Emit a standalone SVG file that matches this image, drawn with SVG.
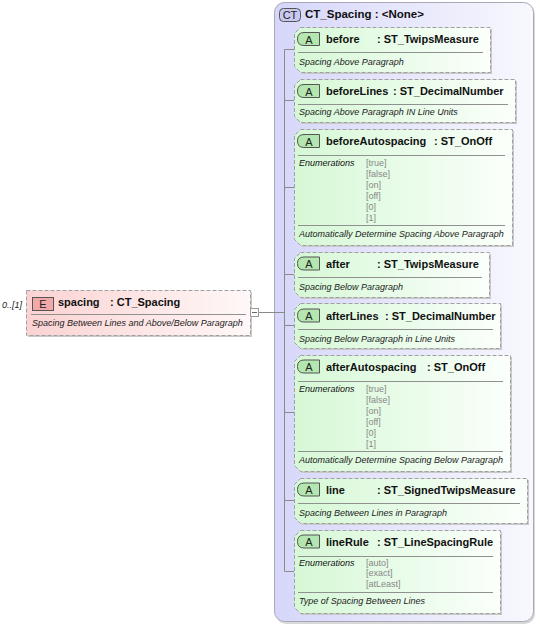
<svg xmlns="http://www.w3.org/2000/svg" width="540" height="626" viewBox="0 0 540 626">
<defs>
<linearGradient id="ctG" x1="0" y1="0" x2="1" y2="0">
<stop offset="0" stop-color="#d6d6fa"/><stop offset="1" stop-color="#f8f8fe"/>
</linearGradient>
<linearGradient id="aG" x1="0" y1="0" x2="1" y2="0">
<stop offset="0" stop-color="#d6f8d6"/><stop offset="1" stop-color="#fbfffb"/>
</linearGradient>
<linearGradient id="eG" x1="0" y1="0" x2="1" y2="0">
<stop offset="0" stop-color="#fbd2d2"/><stop offset="1" stop-color="#fff8f8"/>
</linearGradient>
</defs>
<style>
.box{stroke:#a0a0a0;stroke-width:1;stroke-dasharray:4,2}
.shadow{fill:#c8c8c8}
.attr{fill:url(#aG)}
.sep{stroke:#909090;stroke-width:1}
.hdr{font-family:"Liberation Sans",Arial,sans-serif;font-size:11px;font-weight:bold;fill:#111}
.desc{font-family:"Liberation Sans",Arial,sans-serif;font-size:9px;font-style:italic;fill:#222}
.enl{font-family:"Liberation Sans",Arial,sans-serif;font-size:9px;font-style:italic;fill:#111}
.env{font-family:"Liberation Sans",Arial,sans-serif;font-size:9px;fill:#888}
.abadge{fill:#b4e6b0;stroke:#555;stroke-width:1}
.btxt{font-family:"Liberation Sans",Arial,sans-serif;font-size:11px;fill:#222;text-anchor:middle}
.conn{stroke:#8a8a8a;stroke-width:1;fill:none}
</style>

<g id="CT_Spacing">
<rect x="276" y="4" width="259" height="620" rx="10" fill="#d8d8d8"/>
<rect x="274.5" y="2.5" width="259" height="619" rx="10" fill="url(#ctG)" stroke="#a8a8b8"/>
<rect x="279.5" y="8.5" width="21" height="13" rx="4" fill="#c8c8f0" stroke="#555"/>
<text class="btxt" x="290" y="19">CT</text>
<text class="hdr" x="305" y="17.5" style="font-size:11.5px">CT_Spacing : &lt;None&gt;</text>
</g>

<g id="connectors">
<path class="conn" d="M259 312.5H284.5"/>
<path class="conn" d="M284.5 49.5V571.5"/>
<path class="conn" d="M284.5 49.5H294M284.5 100.5H294M284.5 187.5H294M284.5 274.5H294M284.5 325.5H294M284.5 412.5H294M284.5 500.5H294M284.5 571.5H294"/>
</g>

<g id="spacing">
<rect x="28" y="292" width="224" height="45" class="shadow"/>
<rect x="26.5" y="290.5" width="224" height="45" fill="url(#eG)" class="box"/>
<rect x="32.5" y="297.5" width="21" height="13" fill="#f2a8a8" stroke="#555"/>
<text class="btxt" x="43" y="308">E</text>
<text class="hdr" x="58" y="306">spacing</text>
<text class="hdr" x="110" y="306">: CT_Spacing</text>
<path class="sep" d="M31 314.5H246"/>
<text class="desc" x="32" y="326">Spacing Between Lines and Above/Below Paragraph</text>
<text x="2" y="308" font-family="Liberation Sans, Arial, sans-serif" font-size="9" font-style="italic" fill="#222">0..[1]</text>
<rect x="250.5" y="308.5" width="8" height="8" fill="#fff" stroke="#999"/>
<path d="M252 312.5H257" stroke="#666"/>
</g>

<g id="before">
<path class="shadow" d="M302 29H492V74H302L296 68V35Z"/>
<path class="attr box" d="M300.5 27.5H490.5V72.5H300.5L294.5 66.5V33.5Z"/>
<path class="abadge" d="M304 32.5H319.5V45.5H304Q297.5 45.5 297.5 39Q297.5 32.5 304 32.5Z"/>
<text class="btxt" x="309" y="43.5">A</text>
<text class="hdr" x="326" y="43">before</text>
<text class="hdr" x="377" y="43">: ST_TwipsMeasure</text>
<path class="sep" d="M298 52.5H483"/>
<text class="desc" x="299" y="64.5">Spacing Above Paragraph</text>
</g>

<g id="beforeLines">
<path class="shadow" d="M302 81H517V124H302L296 118V87Z"/>
<path class="attr box" d="M300.5 79.5H515.5V122.5H300.5L294.5 116.5V85.5Z"/>
<path class="abadge" d="M304 84.5H319.5V97.5H304Q297.5 97.5 297.5 91Q297.5 84.5 304 84.5Z"/>
<text class="btxt" x="309" y="95.5">A</text>
<text class="hdr" x="326" y="95">beforeLines</text>
<text class="hdr" x="393" y="95">: ST_DecimalNumber</text>
<path class="sep" d="M298 104.5H508"/>
<text class="desc" x="299" y="115">Spacing Above Paragraph IN Line Units</text>
</g>

<g id="beforeAutospacing">
<path class="shadow" d="M302 131H514V247H302L296 241V137Z"/>
<path class="attr box" d="M300.5 129.5H512.5V245.5H300.5L294.5 239.5V135.5Z"/>
<path class="abadge" d="M304 134.5H319.5V147.5H304Q297.5 147.5 297.5 141Q297.5 134.5 304 134.5Z"/>
<text class="btxt" x="309" y="145.5">A</text>
<text class="hdr" x="326" y="145">beforeAutospacing</text>
<text class="hdr" x="434" y="145">: ST_OnOff</text>
<path class="sep" d="M298 155.5H505"/>
<text class="enl" x="299" y="166">Enumerations</text>
<text class="env" x="366" y="166">[true]</text>
<text class="env" x="366" y="177">[false]</text>
<text class="env" x="366" y="188">[on]</text>
<text class="env" x="366" y="199">[off]</text>
<text class="env" x="366" y="210">[0]</text>
<text class="env" x="366" y="221">[1]</text>
<path class="sep" d="M298 225.5H505"/>
<text class="desc" x="299" y="236.5">Automatically Determine Spacing Above Paragraph</text>
</g>

<g id="after">
<path class="shadow" d="M302 254H491V299H302L296 293V260Z"/>
<path class="attr box" d="M300.5 252.5H489.5V297.5H300.5L294.5 291.5V258.5Z"/>
<path class="abadge" d="M304 257H319.5V270H304Q297.5 270 297.5 263.5Q297.5 257 304 257Z"/>
<text class="btxt" x="309" y="268">A</text>
<text class="hdr" x="326" y="267.5">after</text>
<text class="hdr" x="377" y="267.5">: ST_TwipsMeasure</text>
<path class="sep" d="M298 277.5H482"/>
<text class="desc" x="299" y="289.5">Spacing Below Paragraph</text>
</g>

<g id="afterLines">
<path class="shadow" d="M302 305H502V350H302L296 344V311Z"/>
<path class="attr box" d="M300.5 303.5H500.5V348.5H300.5L294.5 342.5V309.5Z"/>
<path class="abadge" d="M304 309H319.5V322H304Q297.5 322 297.5 315.5Q297.5 309 304 309Z"/>
<text class="btxt" x="309" y="320">A</text>
<text class="hdr" x="326" y="319.5">afterLines</text>
<text class="hdr" x="385" y="319.5">: ST_DecimalNumber</text>
<path class="sep" d="M298 329.5H493"/>
<text class="desc" x="299" y="341.5">Spacing Below Paragraph in Line Units</text>
</g>

<g id="afterAutospacing">
<path class="shadow" d="M302 357H512V473H302L296 467V363Z"/>
<path class="attr box" d="M300.5 355.5H510.5V471.5H300.5L294.5 465.5V361.5Z"/>
<path class="abadge" d="M304 360H319.5V373H304Q297.5 373 297.5 366.5Q297.5 360 304 360Z"/>
<text class="btxt" x="309" y="371">A</text>
<text class="hdr" x="326" y="370.5">afterAutospacing</text>
<text class="hdr" x="427" y="370.5">: ST_OnOff</text>
<path class="sep" d="M298 381.5H503"/>
<text class="enl" x="299" y="392">Enumerations</text>
<text class="env" x="366" y="392">[true]</text>
<text class="env" x="366" y="403">[false]</text>
<text class="env" x="366" y="414">[on]</text>
<text class="env" x="366" y="425">[off]</text>
<text class="env" x="366" y="436">[0]</text>
<text class="env" x="366" y="447">[1]</text>
<path class="sep" d="M298 451.5H503"/>
<text class="desc" x="299" y="462.5">Automatically Determine Spacing Below Paragraph</text>
</g>

<g id="line">
<path class="shadow" d="M302 480H529V525H302L296 519V486Z"/>
<path class="attr box" d="M300.5 478.5H527.5V523.5H300.5L294.5 517.5V484.5Z"/>
<path class="abadge" d="M304 483H319.5V496H304Q297.5 496 297.5 489.5Q297.5 483 304 483Z"/>
<text class="btxt" x="309" y="494">A</text>
<text class="hdr" x="326" y="493.5">line</text>
<text class="hdr" x="377" y="493.5">: ST_SignedTwipsMeasure</text>
<path class="sep" d="M298 503.5H520"/>
<text class="desc" x="299" y="515.5">Spacing Between Lines in Paragraph</text>
</g>

<g id="lineRule">
<path class="shadow" d="M302 532H502V615H302L296 609V538Z"/>
<path class="attr box" d="M300.5 530.5H500.5V613.5H300.5L294.5 607.5V536.5Z"/>
<path class="abadge" d="M304 535H319.5V548H304Q297.5 548 297.5 541.5Q297.5 535 304 535Z"/>
<text class="btxt" x="309" y="546">A</text>
<text class="hdr" x="326" y="545.5">lineRule</text>
<text class="hdr" x="377" y="545.5">: ST_LineSpacingRule</text>
<path class="sep" d="M298 556.5H493"/>
<text class="enl" x="299" y="566">Enumerations</text>
<text class="env" x="366" y="566">[auto]</text>
<text class="env" x="366" y="576">[exact]</text>
<text class="env" x="366" y="587">[atLeast]</text>
<path class="sep" d="M298 592.5H493"/>
<text class="desc" x="299" y="603.5">Type of Spacing Between Lines</text>
</g>
</svg>
